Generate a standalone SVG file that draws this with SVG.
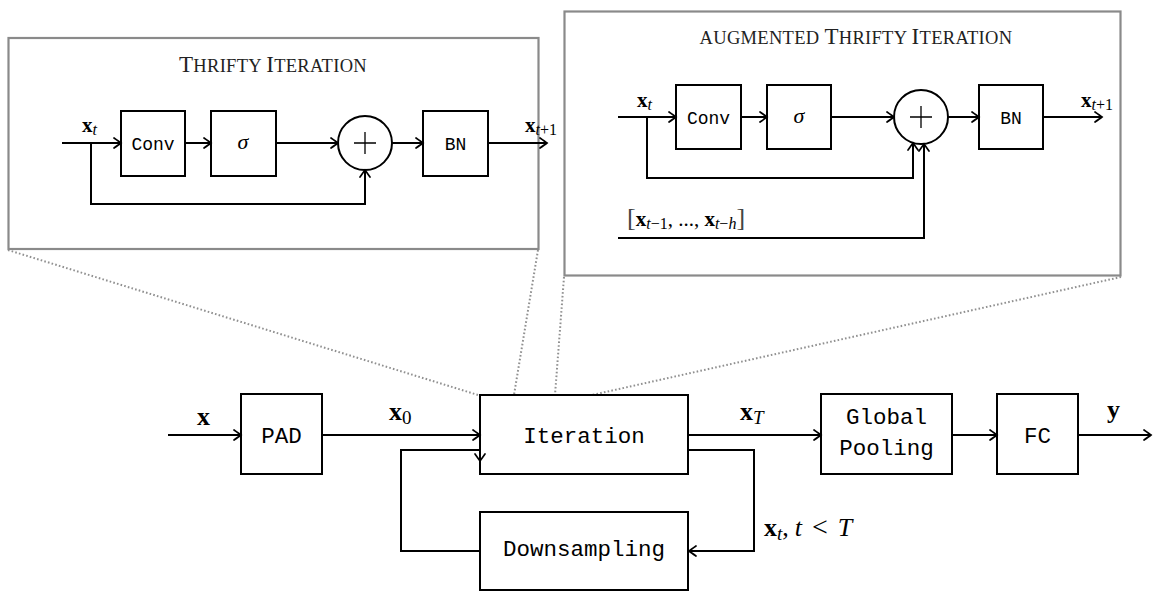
<svg xmlns="http://www.w3.org/2000/svg" width="1153" height="592" viewBox="0 0 1153 592">
<defs>
<marker id="arr" viewBox="-9 -7 11 14" refX="0" refY="0" markerWidth="11" markerHeight="14" markerUnits="userSpaceOnUse" orient="auto">
<path d="M-7,-5 Q-2,-1.5 0,0 Q-2,1.5 -7,5" fill="none" stroke="#000" stroke-width="1.7" stroke-linecap="round"/>
</marker>
<style>
.inset{fill:#fff;stroke:#8a8a8a;stroke-width:2.2}
.box{fill:#fff;stroke:#000;stroke-width:2}
.ln{fill:none;stroke:#000;stroke-width:2}
.ar{fill:none;stroke:#000;stroke-width:2;marker-end:url(#arr)}
.dot{fill:none;stroke:#909090;stroke-width:2;stroke-dasharray:1.6 2.2}
.tt{font-family:"Liberation Mono",monospace;fill:#000;text-anchor:middle}
.ttl{font-family:"Liberation Serif",serif;fill:#222;text-anchor:middle;font-size:18.5px;letter-spacing:0.3px}
.cap{font-size:23px}
.m{font-family:"Liberation Serif",serif;fill:#000}
.b{font-weight:bold;font-style:normal}
.i{font-style:italic}
</style>
</defs>
<rect width="1153" height="592" fill="#fff"/>

<g id="dotted-lines">
<line class="dot" x1="8" y1="250" x2="478" y2="395"/>
<line class="dot" x1="538" y1="250" x2="514" y2="395"/>
<line class="dot" x1="564" y1="277" x2="555" y2="395"/>
<line class="dot" x1="1121" y1="277" x2="592" y2="395"/>
</g>

<g id="inset-thrifty">
<rect class="inset" x="8.5" y="38" width="530" height="211"/>
<text class="ttl" x="273" y="72"><tspan class="cap">T</tspan>HRIFTY <tspan class="cap">I</tspan>TERATION</text>
</g>
<g id="inset-augmented">
<rect class="inset" x="564.5" y="11.5" width="556" height="264"/>
<text class="ttl" x="856" y="44">AUGMENTED <tspan class="cap">T</tspan>HRIFTY <tspan class="cap">I</tspan>TERATION</text>
</g>

<!-- left inset nodes -->
<g id="t-conv"><rect class="box" x="121" y="111" width="64" height="65"/><text class="tt" x="153" y="150" font-size="18">Conv</text></g>
<g id="t-sigma"><rect class="box" x="211" y="111" width="65" height="65"/><text class="m i" x="243" y="149" font-size="22" text-anchor="middle">σ</text></g>
<g id="t-sum"><circle cx="365" cy="143" r="27" fill="#fff" stroke="#000" stroke-width="2"/><path d="M354,143 H376 M365,132 V154" stroke="#000" stroke-width="1.3"/></g>
<g id="t-bn"><rect class="box" x="423" y="111" width="65" height="65"/><text class="tt" x="455.5" y="150" font-size="18">BN</text></g>

<!-- right inset nodes -->
<g id="a-conv"><rect class="box" x="676" y="85" width="65" height="64"/><text class="tt" x="708.5" y="124" font-size="18">Conv</text></g>
<g id="a-sigma"><rect class="box" x="767" y="85" width="64" height="64"/><text class="m i" x="799" y="123" font-size="22" text-anchor="middle">σ</text></g>
<g id="a-sum"><circle cx="921" cy="117" r="27" fill="#fff" stroke="#000" stroke-width="2"/><path d="M910,117 H932 M921,106 V128" stroke="#000" stroke-width="1.3"/></g>
<g id="a-bn"><rect class="box" x="979" y="85" width="64" height="64"/><text class="tt" x="1011" y="124" font-size="18">BN</text></g>

<!-- main nodes -->
<g id="pad"><rect class="box" x="241" y="394" width="81" height="80"/><text class="tt" x="281.5" y="443" font-size="22.5">PAD</text></g>
<g id="iteration"><rect class="box" x="480" y="395" width="208" height="79"/><text class="tt" x="584" y="443" font-size="22.5">Iteration</text></g>
<g id="downsampling"><rect class="box" x="480" y="512" width="208" height="78"/><text class="tt" x="584" y="556" font-size="22.5">Downsampling</text></g>
<g id="pooling"><rect class="box" x="821" y="394" width="131" height="80"/><text class="tt" x="886.5" y="424" font-size="22.5">Global</text><text class="tt" x="886.5" y="455" font-size="22.5">Pooling</text></g>
<g id="fc"><rect class="box" x="997" y="394" width="81" height="80"/><text class="tt" x="1037.5" y="443" font-size="22.5">FC</text></g>

<g id="connectors">
<path class="ar" d="M62,143 H121"/>
<path class="ar" d="M91,143 V204 H365 V170"/>
<path class="ar" d="M185,143 H211"/>
<path class="ar" d="M276,143 H338"/>
<path class="ar" d="M392,143 H423"/>
<path class="ar" d="M488,143 H547"/>
<path class="ar" d="M618,117 H676"/>
<path class="ar" d="M647,117 V178 H913 V143"/>
<path class="ar" d="M618,238 H924 V144"/>
<path class="ar" d="M741,117 H767"/>
<path class="ar" d="M831,117 H894"/>
<path class="ar" d="M948,117 H979"/>
<path class="ar" d="M1043,117 H1102"/>
<path class="ar" d="M168,435 H241"/>
<path class="ar" d="M322,435 H480"/>
<path class="ar" d="M688,435 H821"/>
<path class="ar" d="M952,435 H997"/>
<path class="ar" d="M1078,435 H1151"/>
<path class="ar" d="M480,551 H401 V450 H480 V461"/>
<path class="ar" d="M688,450 H754 V551 H689"/>
</g>

<g id="labels">
<text class="m" x="82" y="132" font-size="21"><tspan class="b">x</tspan><tspan class="i" font-size="16" dy="3">t</tspan></text>
<text class="m" x="525" y="132" font-size="21"><tspan class="b">x</tspan><tspan class="i" font-size="16" dy="3">t</tspan><tspan font-size="16">+1</tspan></text>
<text class="m" x="637" y="107" font-size="21"><tspan class="b">x</tspan><tspan class="i" font-size="16" dy="3">t</tspan></text>
<text class="m" x="1081" y="107" font-size="21"><tspan class="b">x</tspan><tspan class="i" font-size="16" dy="3">t</tspan><tspan font-size="16">+1</tspan></text>
<text class="m" x="627" y="226" font-size="21"><tspan font-size="26" fill="#444">[</tspan><tspan class="b">x</tspan><tspan font-size="16" dy="3"><tspan class="i">t</tspan>−1</tspan><tspan dy="-3">, ..., </tspan><tspan class="b">x</tspan><tspan font-size="16" dy="3"><tspan class="i">t</tspan>−<tspan class="i">h</tspan></tspan><tspan font-size="26" dy="-3" fill="#444">]</tspan></text>
<text class="m b" x="197" y="425" font-size="26">x</text>
<text class="m" x="389" y="420" font-size="26"><tspan class="b">x</tspan><tspan font-size="19" dy="4">0</tspan></text>
<text class="m" x="740" y="420" font-size="26"><tspan class="b">x</tspan><tspan class="i" font-size="19" dy="4">T</tspan></text>
<text class="m b" x="1107" y="418" font-size="26">y</text>
<text class="m" x="764" y="536" font-size="26"><tspan class="b">x</tspan><tspan class="i" font-size="19" dy="4">t</tspan><tspan dy="-4">,</tspan><tspan class="i" dx="6">t</tspan><tspan dx="10" font-size="28">&lt;</tspan><tspan class="i" dx="10">T</tspan></text>
</g>
</svg>
